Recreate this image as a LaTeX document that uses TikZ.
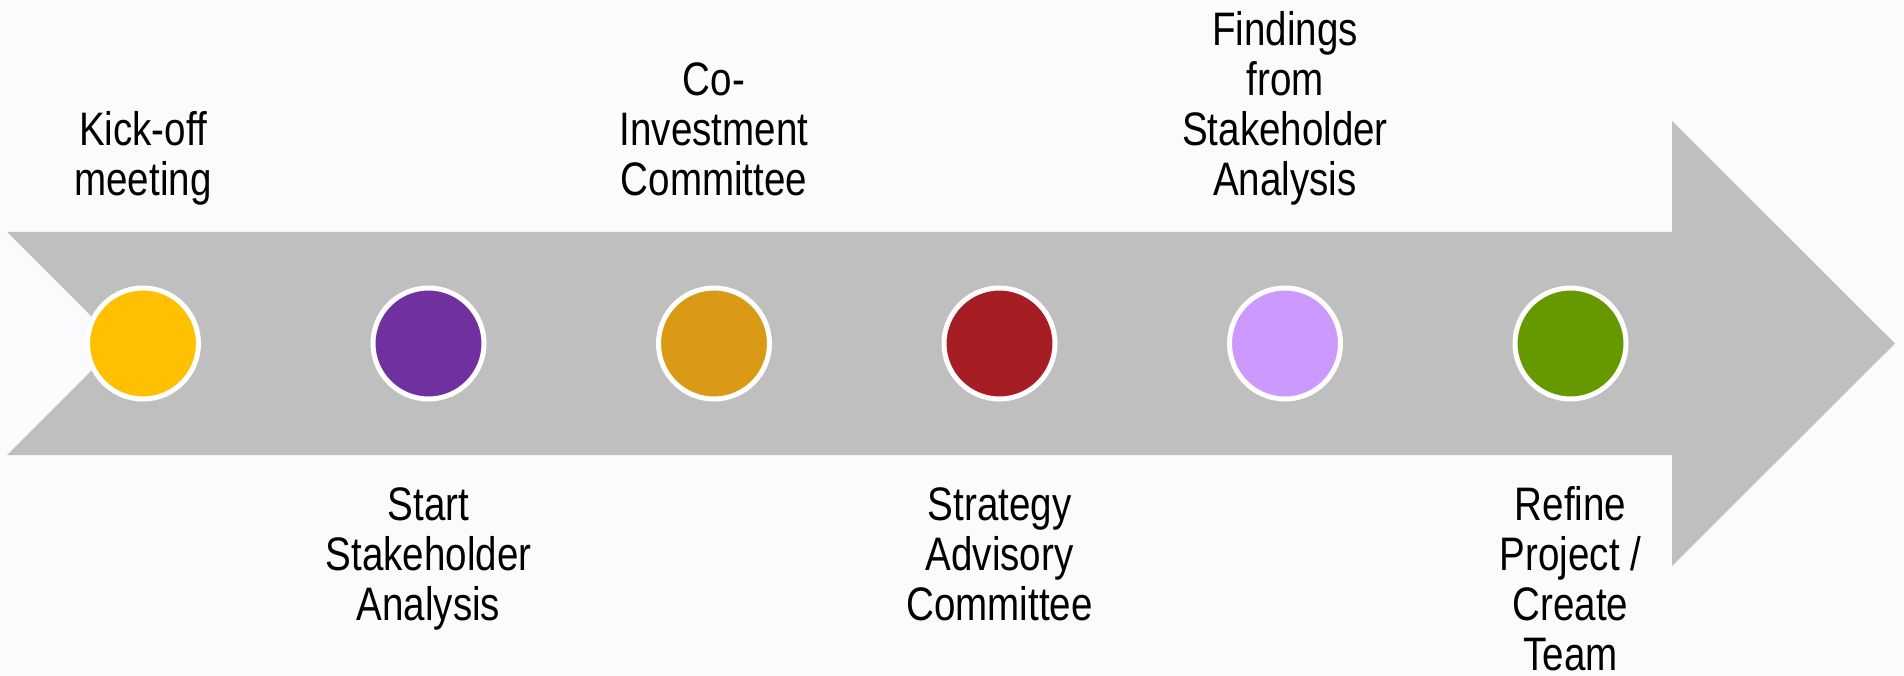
\documentclass[tikz,border=0pt]{standalone}
\usepackage{fontspec}
\setmainfont[FakeStretch=0.82]{Liberation Sans}
\definecolor{bgcol}{RGB}{251,251,253}
\definecolor{arrowgray}{RGB}{191,191,191}
\definecolor{cyellow}{RGB}{255,192,0}
\definecolor{cpurple}{RGB}{112,48,160}
\definecolor{corange}{RGB}{218,154,21}
\definecolor{cred}{RGB}{166,30,36}
\definecolor{clilac}{RGB}{204,153,255}
\definecolor{cgreen}{RGB}{102,153,0}
\tikzset{
  dot/.style={circle, draw=white, line width=5pt, minimum size=111pt, inner sep=0pt},
  lbl/.style={align=center, inner sep=0pt, anchor=base, font=\fontsize{47}{50}\selectfont, text=black}
}
\begin{document}
\begin{tikzpicture}[x=1pt,y=-1pt]
\fill[bgcol] (0,0) rectangle (1904,676);
\useasboundingbox (0,0) rectangle (1904,676);
% timeline arrow
\fill[arrowgray] (7,232) -- (1672,232) -- (1672,121) -- (1895,343.5) -- (1672,566) -- (1672,455) -- (7,455) -- (118.5,343.5) -- cycle;
% milestone dots
\node[dot, fill=cyellow] (c1) at (143,343.5) {};
\node[dot, fill=cpurple] (c2) at (428.5,343.5) {};
\node[dot, fill=corange] (c3) at (714,343.5) {};
\node[dot, fill=cred]    (c4) at (999.5,343.5) {};
\node[dot, fill=clilac]  (c5) at (1285,343.5) {};
\node[dot, fill=cgreen]  (c6) at (1570.5,343.5) {};
% labels above (base = last line)
\node[lbl] (l1) at (143,196) {Kick-off\\meeting};
\node[lbl] (l3) at (714,196) {Co-\\Investment\\Committee};
\node[lbl] (l5) at (1285,196) {Findings\\from\\Stakeholder\\Analysis};
% labels below
\node[lbl] (l2) at (428.5,620) {Start\\Stakeholder\\Analysis};
\node[lbl] (l4) at (999.5,620) {Strategy\\Advisory\\Committee};
\node[lbl] (l6) at (1570.5,670) {Refine\\Project /\\Create\\Team};
\end{tikzpicture}
\end{document}
